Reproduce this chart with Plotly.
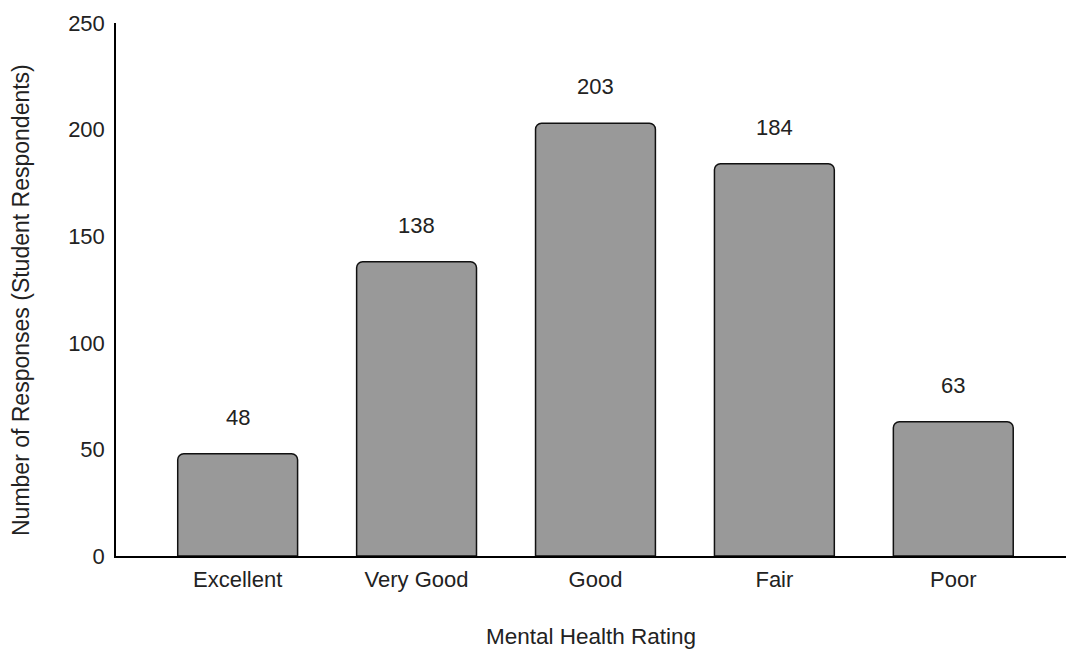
import plotly.graph_objects as go

# Survey results: self-rated mental health of student respondents
ratings = ["Excellent", "Very Good", "Good", "Fair", "Poor"]
responses = [48, 138, 203, 184, 63]

y_ticks = [0, 50, 100, 150, 200, 250]

FONT = "Liberation Sans, Arial, sans-serif"
TEXT_COLOR = "#222222"
FONT_SIZE = 22

fig = go.Figure()

fig.add_trace(
    go.Bar(
        x=ratings,
        y=responses,
        width=0.67,
        marker=dict(
            color="#999999",
            line=dict(color="#111111", width=1.5),
            cornerradius=6,
        ),
        hoverinfo="x+y",
    )
)

# Value labels above each bar
for cat, val in zip(ratings, responses):
    fig.add_annotation(
        x=cat,
        y=val,
        text=str(val),
        showarrow=False,
        yanchor="bottom",
        yshift=22,
        font=dict(family=FONT, size=FONT_SIZE, color=TEXT_COLOR),
    )

# Vertical y-axis title, placed a little below the plot centre
fig.add_annotation(
    text="Number of Responses (Student Respondents)",
    xref="paper",
    yref="paper",
    x=0,
    y=0,
    xanchor="center",
    yanchor="middle",
    xshift=-95,
    yshift=256,
    textangle=-90,
    showarrow=False,
    font=dict(family=FONT, size=23, color=TEXT_COLOR),
)

fig.update_layout(
    width=1066,
    height=651,
    margin=dict(l=116, r=0, t=23, b=95),
    paper_bgcolor="white",
    plot_bgcolor="white",
    showlegend=False,
    font=dict(family=FONT, size=FONT_SIZE, color=TEXT_COLOR),
    bargap=0.33,
)

fig.update_xaxes(
    type="category",
    range=[-0.68, 4.63],
    showline=True,
    linecolor="#000000",
    linewidth=1.5,
    showgrid=False,
    zeroline=False,
    ticks="",
    ticklabelstandoff=3,
    tickfont=dict(family=FONT, size=FONT_SIZE, color=TEXT_COLOR),
    title=dict(
        text="Mental Health Rating",
        font=dict(family=FONT, size=22.5, color=TEXT_COLOR),
        standoff=37,
    ),
)

fig.update_yaxes(
    range=[0, 250],
    tickvals=y_ticks,
    showline=True,
    linecolor="#000000",
    linewidth=1.5,
    showgrid=False,
    zeroline=False,
    ticks="",
    ticklabelstandoff=5,
    tickfont=dict(family=FONT, size=FONT_SIZE, color=TEXT_COLOR),
)

fig.write_html("out.html")
